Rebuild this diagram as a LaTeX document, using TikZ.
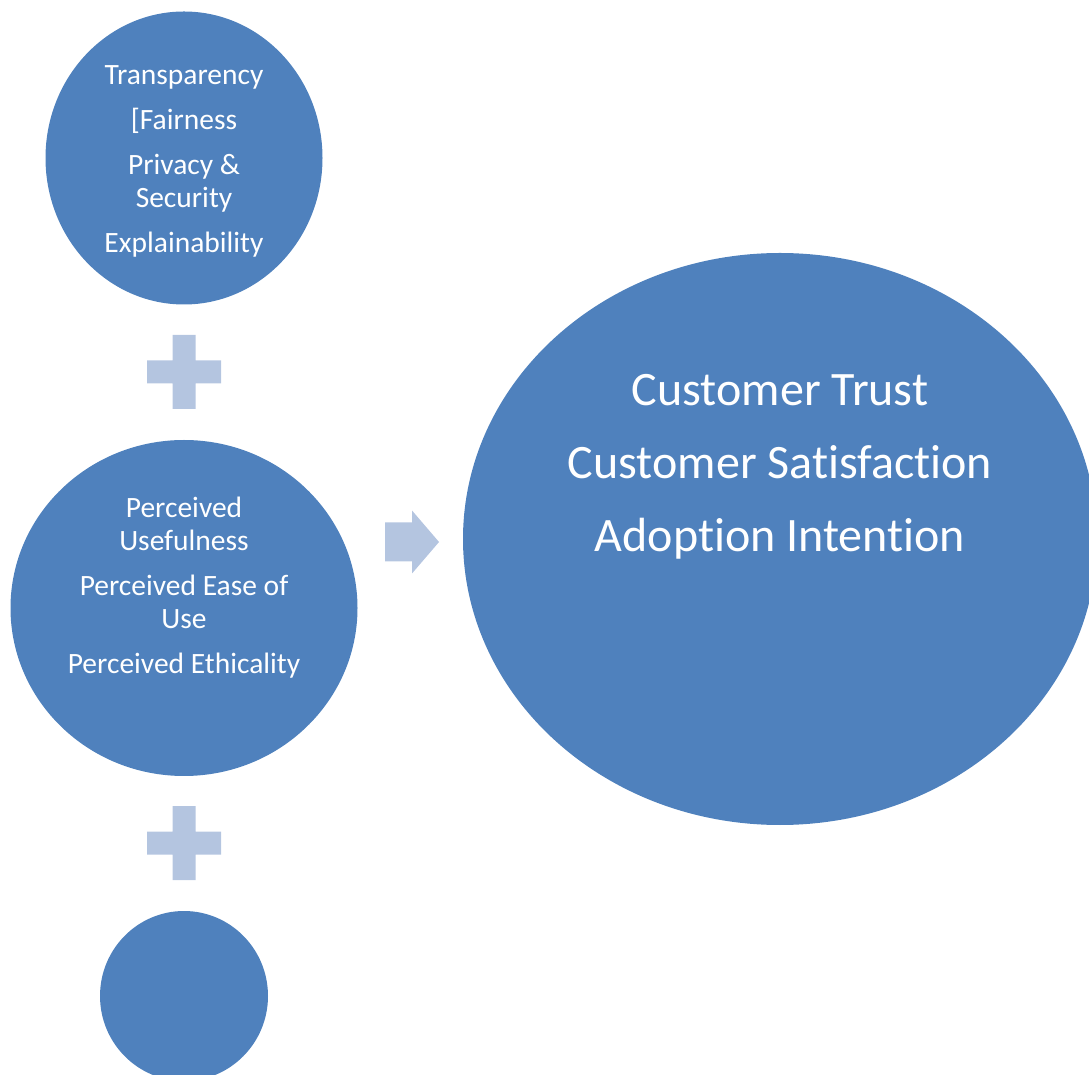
\documentclass[tikz,border=0pt]{standalone}
\usepackage{fontspec}
\setmainfont[Ligatures=NoCommon]{Carlito}
\usetikzlibrary{shapes.geometric}

\definecolor{bubbleblue}{HTML}{4F81BD}
\definecolor{signblue}{HTML}{B4C5E0}

\begin{document}
\begin{tikzpicture}[x=1pt, y=1pt,
    bubble/.style={ellipse, fill=bubbleblue, inner sep=0pt},
    sign/.style={fill=signblue},
    every node/.style={text=white, align=center, font=\fontsize{29.5}{33}\selectfont}]
    \useasboundingbox (0,0) rectangle (1089,1074);
    \clip (0,0) rectangle (1089,1074);

    % the three bubbles on the left and the large one on the right
    \node[bubble, minimum width=277pt, minimum height=293pt] (ethics) at (184,916) {};
    \node[bubble, minimum width=347pt, minimum height=336pt] (percep) at (184,466) {};
    \node[bubble, minimum width=168pt, minimum height=170pt] (extra)  at (184,78)  {};
    \node[bubble, minimum width=634pt, minimum height=572pt] (result) at (780,535) {};

    % texts
    \node (ethicsTxt) at (184,913) {Transparency\\[12pt] [Fairness\\[12pt] Privacy \&\\ Security\\[12pt] Explainability};
    \node (percepTxt) at (184,486) {Perceived\\ Usefulness\\[12pt] Perceived Ease of\\ Use\\[12pt] Perceived Ethicality};
    \node[font=\fontsize{48}{73}\selectfont] (resultTxt) at (780,607) {Customer Trust\\ Customer Satisfaction\\ Adoption Intention};

    % plus signs between the bubbles
    \coordinate (plusA) at (184,702);
    \coordinate (plusB) at (184,231);
    \foreach \p in {plusA, plusB}
        \fill[sign, shift={(\p)}] (-37,-11.5) rectangle (37,11.5) (-11.5,-37) rectangle (11.5,37);

    % arrow towards the outcome
    \fill[sign] (385,512.5) -- (412,512.5) -- (412,500.5) -- (439,532) -- (412,563.5)
        -- (412,551.5) -- (385,551.5) -- cycle;
\end{tikzpicture}
\end{document}
